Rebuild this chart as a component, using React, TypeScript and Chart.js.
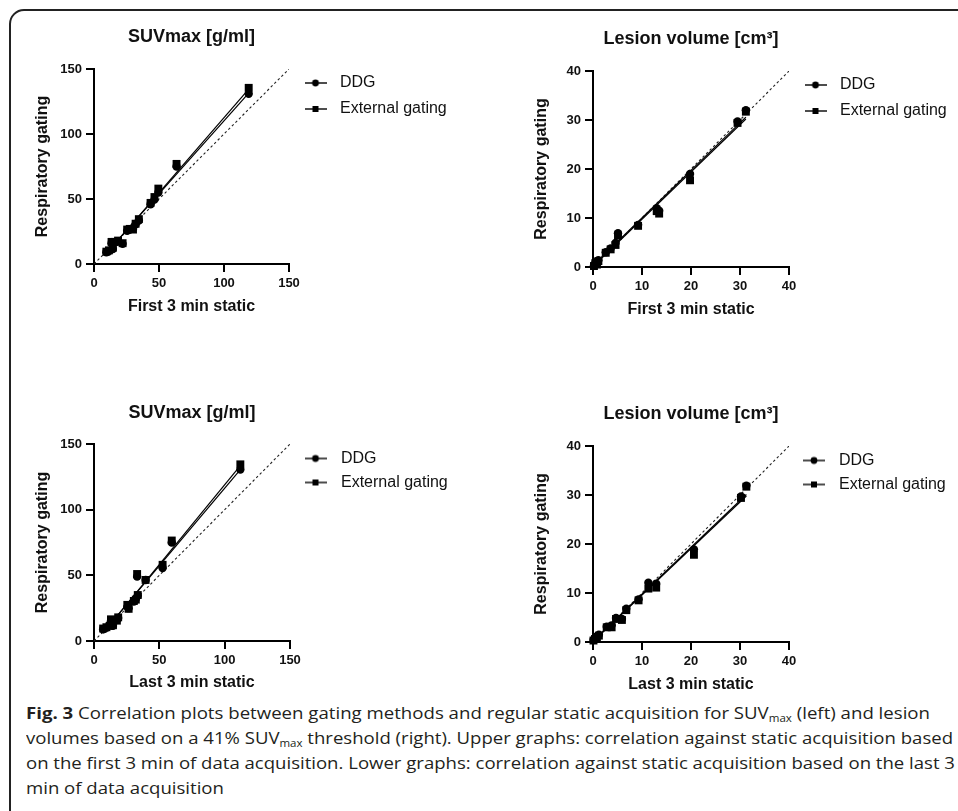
import React, { useEffect, useLayoutEffect, useRef } from "react";
import { Chart, registerables } from "chart.js";

Chart.register(...registerables);

// ---------- Data ----------
// Upper left: SUVmax, first 3 min static
const suvFirstStatic = [9.5, 11.5, 13.5, 14.5, 16, 18.5, 22, 25.5, 27.5, 30, 32, 34.5, 43.5, 46.5, 49.5, 63.5, 119];
const suvFirstDDG = [9, 10, 16, 11.5, 16.5, 17.5, 15.5, 25.5, 26.5, 27, 30.5, 33.5, 46, 49.5, 55, 75, 131];
const suvFirstExt = [9.5, 10.5, 17, 12.5, 17, 18, 16, 26.5, 27, 26.5, 31, 34.5, 47, 51.5, 58, 77, 135.5];
const suvFirstFitX = [9.5, 119];
const suvFirstFitDDG = [8.5, 131.5];
const suvFirstFitExt = [8, 134.5];

// Upper right: lesion volume, first 3 min static
const volFirstStatic = [0.2, 0.5, 0.8, 1.1, 2.6, 3.6, 4.6, 5.1, 9.2, 13.0, 13.5, 19.8, 29.5, 31.2];
const volFirstDDG = [0.3, 1.0, 0.6, 1.4, 3.0, 3.8, 4.9, 6.9, 8.6, 12.0, 11.5, 19.0, 29.7, 32.0];
const volFirstExt = [0.2, 0.8, 0.5, 1.2, 2.9, 3.6, 4.5, 6.4, 8.4, 11.4, 10.9, 17.7, 29.4, 31.7];
const volFirstFitX = [0.2, 31.2];
const volFirstFitDDG = [0.5, 30.6];
const volFirstFitExt = [0.3, 30.2];

// Lower left: SUVmax, last 3 min static
const suvLastStatic = [7, 9.5, 12, 13, 14.5, 17.5, 18.5, 25.5, 26.5, 30.5, 32, 33.5, 33, 39.5, 52.5, 59.5, 112];
const suvLastDDG = [9, 10, 12.5, 15.5, 11.5, 16, 17.5, 26, 25, 30, 32, 34.5, 49, 46.5, 55.5, 75, 130.5];
const suvLastExt = [9.5, 10.5, 11.5, 16.5, 12, 15.5, 18, 27.5, 24.5, 30.5, 31.5, 35, 51, 46.5, 58, 76.5, 134.5];
const suvLastFitX = [7, 112];
const suvLastFitDDG = [6.5, 130.5];
const suvLastFitExt = [6, 133.5];

// Lower right: lesion volume, last 3 min static
const volLastStatic = [0.1, 0.4, 0.8, 1.2, 2.8, 3.8, 4.7, 5.9, 6.8, 9.3, 11.3, 12.9, 20.6, 30.2, 31.3];
const volLastDDG = [0.4, 0.8, 1.2, 1.5, 3.1, 3.4, 4.9, 4.7, 6.8, 8.7, 12.1, 11.9, 18.9, 29.7, 31.9];
const volLastExt = [0.3, 0.6, 1.0, 1.3, 3.0, 3.0, 4.7, 4.5, 6.5, 8.5, 10.9, 11.1, 17.8, 29.4, 31.7];
const volLastFitX = [0.1, 31.3];
const volLastFitDDG = [0.3, 30.1];
const volLastFitExt = [0.2, 29.8];

// Axes
const suvRange = [0, 150];
const suvStep = 50;
const volRange = [0, 40];
const volStep = 10;

const seriesLabels = ["DDG", "External gating"];
const yAxisTitle = "Respiratory gating";

const FONT = "'Liberation Sans', Arial, Helvetica, sans-serif";
const INK = "#111";

type Spec = {
  left: number; top: number; width: number; height: number;
  padRight: number; yW: number; xH: number; topH: number; legendW: number;
  titlePad: number; yTitlePad: number; xTitlePad: number;
  legendPad: number; legendShift: number; iconW: number;
  title: string; xTitle: string; range: number[]; step: number;
  xs: number[]; ddg: number[]; ext: number[];
  fitX: number[]; fitDDG: number[]; fitExt: number[];
};

const pts = (xs: number[], ys: number[]) => xs.map((x, i) => ({ x, y: ys[i] }));

function makeIcon(kind: "circle" | "square") {
  const c = document.createElement("canvas");
  c.width = 22;
  c.height = 10;
  const g = c.getContext("2d")!;
  g.strokeStyle = "#000";
  g.lineWidth = 1.4;
  g.beginPath();
  g.moveTo(0, 5);
  g.lineTo(22, 5);
  g.stroke();
  g.fillStyle = "#000";
  if (kind === "circle") {
    g.beginPath();
    g.arc(11, 5, 3.4, 0, Math.PI * 2);
    g.fill();
  } else {
    g.fillRect(8, 2, 6, 6);
  }
  return c;
}

const legendShiftPlugin = {
  id: "legendShift",
  afterLayout(chart: any, _args: any, opts: any) {
    const l = chart.legend;
    const s = (opts && opts.shift) || 0;
    if (l && s) {
      l.top -= s;
      l.bottom -= s;
    }
  },
};

function Plot({ spec }: { spec: Spec }) {
  const ref = useRef<HTMLCanvasElement | null>(null);
  useEffect(() => {
    const iconC = makeIcon("circle");
    const iconS = makeIcon("square");
    const s = spec;
    const tickFont = { family: FONT, size: 13, weight: "bold" as const };
    const gridOpts = {
      display: true,
      drawOnChartArea: false,
      drawTicks: true,
      tickLength: 8,
      tickWidth: 2,
      tickColor: "#000",
      color: "#000",
      lineWidth: 2,
    };
    const chart = new Chart(ref.current!, {
      type: "scatter",
      data: {
        datasets: [
          {
            label: seriesLabels[0],
            data: pts(s.xs, s.ddg),
            pointStyle: "circle",
            pointRadius: 4.2,
            backgroundColor: "#000",
            borderColor: "#000",
            borderWidth: 0,
            clip: false,
          },
          {
            label: seriesLabels[1],
            data: pts(s.xs, s.ext),
            pointStyle: "rect",
            pointRadius: 5.6,
            backgroundColor: "#000",
            borderColor: "#000",
            borderWidth: 0,
            clip: false,
          },
          {
            label: "DDG fit",
            data: pts(s.fitX, s.fitDDG),
            showLine: true,
            pointRadius: 0,
            borderColor: "#000",
            borderWidth: 1.2,
          },
          {
            label: "External gating fit",
            data: pts(s.fitX, s.fitExt),
            showLine: true,
            pointRadius: 0,
            borderColor: "#000",
            borderWidth: 1.2,
          },
          {
            label: "Line of identity",
            data: pts(s.range, s.range),
            showLine: true,
            pointRadius: 0,
            borderColor: "#222",
            borderWidth: 1.1,
            borderDash: [2.5, 2.5],
          },
        ] as any,
      },
      options: {
        animation: false,
        responsive: false,
        maintainAspectRatio: false,
        events: [],
        layout: { padding: { left: 0, top: 0, right: s.padRight, bottom: 0 } },
        plugins: {
          title: { display: false },
          tooltip: { enabled: false },
          legend: {
            display: true,
            position: "right",
            align: "start",
            fullSize: false,
            maxWidth: s.legendW,
            labels: {
              usePointStyle: true,
              pointStyleWidth: s.iconW,
              padding: s.legendPad,
              color: INK,
              font: { family: FONT, size: 16 },
              generateLabels: (c: any) => {
                const items = (Chart.defaults.plugins.legend.labels as any).generateLabels(c);
                return items
                  .filter((it: any) => it.datasetIndex < 2)
                  .map((it: any) => ({
                    ...it,
                    pointStyle: it.datasetIndex === 0 ? iconC : iconS,
                    fontColor: INK,
                  }));
              },
            },
          },
          legendShift: { shift: s.legendShift },
        } as any,
        scales: {
          x: {
            type: "linear",
            position: "bottom",
            min: s.range[0],
            max: s.range[1],
            ticks: { stepSize: s.step, color: INK, font: tickFont, padding: 4 },
            grid: gridOpts,
            border: { display: true, color: "#000", width: 2 },
            title: {
              display: true,
              text: s.xTitle,
              color: INK,
              font: { family: FONT, size: 16, weight: "bold" },
              padding: { top: 0, bottom: s.xTitlePad },
            },
            afterFit: (sc: any) => {
              sc.height = s.xH;
            },
          },
          y: {
            type: "linear",
            position: "left",
            min: s.range[0],
            max: s.range[1],
            ticks: { stepSize: s.step, color: INK, font: tickFont, padding: 4 },
            grid: gridOpts,
            border: { display: true, color: "#000", width: 2 },
            title: {
              display: true,
              text: yAxisTitle,
              color: INK,
              font: { family: FONT, size: 16, weight: "bold" },
              padding: { top: s.yTitlePad, bottom: 0 },
            },
            afterFit: (sc: any) => {
              sc.width = s.yW;
            },
          },
          tt: {
            axis: "x",
            type: "linear",
            position: "top",
            display: true,
            min: s.range[0],
            max: s.range[1],
            ticks: { display: false },
            grid: { display: false, drawTicks: false },
            border: { display: false },
            title: {
              display: true,
              text: s.title,
              color: INK,
              font: { family: FONT, size: 18, weight: "bold" },
              padding: { top: s.titlePad, bottom: 0 },
            },
            afterFit: (sc: any) => {
              sc.height = s.topH;
            },
          },
        } as any,
      },
      plugins: [legendShiftPlugin as any],
    });
    return () => chart.destroy();
  }, [spec]);
  return (
    <canvas
      ref={ref}
      width={spec.width}
      height={spec.height}
      style={{
        position: "absolute",
        left: spec.left,
        top: spec.top,
        width: spec.width,
        height: spec.height,
      }}
    />
  );
}

const specs: Spec[] = [
  {
    left: 12, top: 14, width: 457, height: 316, padRight: 20,
    yW: 82, xH: 66, topH: 55, legendW: 160,
    titlePad: 12.2, yTitlePad: 21.4, xTitlePad: 13.4, legendPad: 10, legendShift: 4, iconW: 33,
    title: "SUVmax [g/ml]", xTitle: "First 3 min static", range: suvRange, step: suvStep,
    xs: suvFirstStatic, ddg: suvFirstDDG, ext: suvFirstExt,
    fitX: suvFirstFitX, fitDDG: suvFirstFitDDG, fitExt: suvFirstFitExt,
  },
  {
    left: 500, top: 14, width: 455, height: 316, padRight: 6,
    yW: 93, xH: 63, topH: 57, legendW: 160,
    titlePad: 14.2, yTitlePad: 32.1, xTitlePad: 10.4, legendPad: 10, legendShift: 4, iconW: 33,
    title: "Lesion volume [cm³]", xTitle: "First 3 min static", range: volRange, step: volStep,
    xs: volFirstStatic, ddg: volFirstDDG, ext: volFirstExt,
    fitX: volFirstFitX, fitDDG: volFirstFitDDG, fitExt: volFirstFitExt,
  },
  {
    left: 12, top: 388, width: 457, height: 312, padRight: 19,
    yW: 82, xH: 59, topH: 56, legendW: 160,
    titlePad: 14.2, yTitlePad: 21.4, xTitlePad: 7.4, legendPad: 8, legendShift: 1.5, iconW: 35,
    title: "SUVmax [g/ml]", xTitle: "Last 3 min static", range: suvRange, step: suvStep,
    xs: suvLastStatic, ddg: suvLastDDG, ext: suvLastExt,
    fitX: suvLastFitX, fitDDG: suvLastFitDDG, fitExt: suvLastFitExt,
  },
  {
    left: 500, top: 388, width: 455, height: 312, padRight: 6,
    yW: 93, xH: 58, topH: 58, legendW: 160,
    titlePad: 15.5, yTitlePad: 32.1, xTitlePad: 5.4, legendPad: 8, legendShift: 1.5, iconW: 34,
    title: "Lesion volume [cm³]", xTitle: "Last 3 min static", range: volRange, step: volStep,
    xs: volLastStatic, ddg: volLastDDG, ext: volLastExt,
    fitX: volLastFitX, fitDDG: volLastFitDDG, fitExt: volLastFitExt,
  },
];

const captionTargets = [904, 927, 929];

function Sub({ children }: { children: React.ReactNode }) {
  return (
    <span style={{ fontSize: "0.62em", position: "relative", top: "0.3em" }}>{children}</span>
  );
}

function Caption() {
  const refs = [useRef<HTMLDivElement | null>(null), useRef<HTMLDivElement | null>(null), useRef<HTMLDivElement | null>(null), useRef<HTMLDivElement | null>(null)];
  useLayoutEffect(() => {
    const fit = () => {
      const scales: number[] = [];
      refs.forEach((r, i) => {
        const el = r.current;
        if (!el) return;
        el.style.transform = "none";
        const w = el.getBoundingClientRect().width;
        if (i < 3) {
          const k = captionTargets[i] / w;
          scales.push(k);
          el.style.transform = `scaleX(${k})`;
        } else {
          const k = scales.reduce((a, b) => a + b, 0) / scales.length;
          el.style.transform = `scaleX(${k})`;
        }
      });
    };
    fit();
    if ((document as any).fonts && (document as any).fonts.ready) {
      (document as any).fonts.ready.then(fit);
    }
  }, []);
  const lineStyle = (i: number): React.CSSProperties => ({
    position: "absolute",
    left: 26,
    top: 700 + i * 25,
    whiteSpace: "nowrap",
    lineHeight: "25px",
    fontSize: 16.5,
    fontFamily: "'Open Sans', 'Liberation Sans', sans-serif",
    color: "#231f20",
    transformOrigin: "0 0",
    display: "inline-block",
  });
  return (
    <>
      <div ref={refs[0]} style={lineStyle(0)}>
        <b>Fig. 3</b> Correlation plots between gating methods and regular static acquisition for SUV<Sub>max</Sub> (left) and lesion
      </div>
      <div ref={refs[1]} style={lineStyle(1)}>
        volumes based on a 41% SUV<Sub>max</Sub> threshold (right). Upper graphs: correlation against static acquisition based
      </div>
      <div ref={refs[2]} style={lineStyle(2)}>
        on the first 3 min of data acquisition. Lower graphs: correlation against static acquisition based on the last 3
      </div>
      <div ref={refs[3]} style={lineStyle(3)}>
        min of data acquisition
      </div>
    </>
  );
}

export default function App() {
  return (
    <div
      style={{
        position: "fixed",
        left: 0,
        top: 0,
        width: 958,
        height: 811,
        overflow: "hidden",
        background: "#fff",
      }}
    >
      <div
        style={{
          position: "absolute",
          left: 9,
          top: 9,
          width: 1100,
          height: 1000,
          border: "2px solid #222",
          borderRadius: 15,
          boxSizing: "border-box",
        }}
      />
      {specs.map((s, i) => (
        <Plot key={i} spec={s} />
      ))}
      <Caption />
    </div>
  );
}
